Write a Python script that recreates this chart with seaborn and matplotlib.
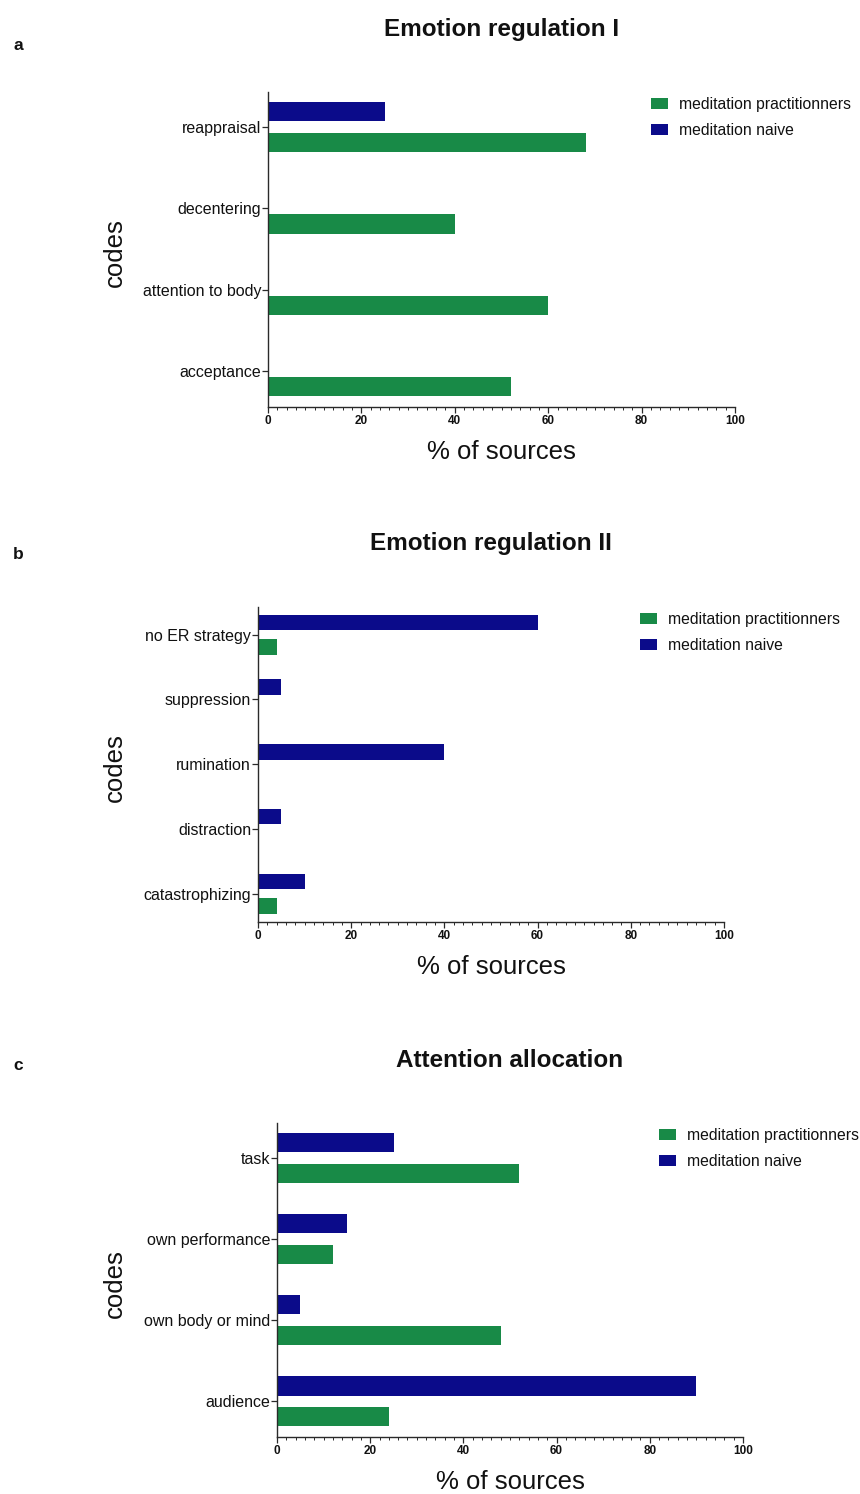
import numpy as np
import pandas as pd
import matplotlib
matplotlib.use("Agg")
import matplotlib.pyplot as plt
import seaborn as sns
from matplotlib.ticker import MultipleLocator

# Share of sources (%) mentioning each code, per group
groups = ["meditation practitionners", "meditation naive"]

er1_codes = ["reappraisal", "decentering", "attention to body", "acceptance"]
er1_practitioners = [68, 40, 60, 52]
er1_naive = [25, 0, 0, 0]

er2_codes = ["no ER strategy", "suppression", "rumination", "distraction", "catastrophizing"]
er2_practitioners = [4, 0, 0, 0, 4]
er2_naive = [60, 5, 40, 5, 10]

att_codes = ["task", "own performance", "own body or mind", "audience"]
att_practitioners = [52, 12, 48, 24]
att_naive = [25, 15, 5, 90]

x_ticks = [0, 20, 40, 60, 80, 100]

titles = ["Emotion regulation I", "Emotion regulation II", "Attention allocation"]
letters = ["a", "b", "c"]

palette = {"meditation practitionners": "#188a47", "meditation naive": "#0b0b8a"}

sns.set_style("ticks")
plt.rcParams["font.family"] = ["Liberation Sans", "DejaVu Sans"]
plt.rcParams["text.color"] = "#111111"
plt.rcParams["axes.labelcolor"] = "#111111"
plt.rcParams["xtick.labelcolor"] = "#111111"
plt.rcParams["ytick.labelcolor"] = "#111111"

W, H = 860, 1494
fig = plt.figure(figsize=(W / 100, H / 100), dpi=100)

# axes frames in pixels: left, right, top, bottom
frames = [(268, 735, 92, 407), (258, 724, 607, 922), (277, 743, 1123, 1437)]
letter_pos = [(13, 45), (13, 555), (13, 1066)]
ylabel_x = [115, 115, 115]

panels = [
    (er1_codes, er1_practitioners, er1_naive),
    (er2_codes, er2_practitioners, er2_naive),
    (att_codes, att_practitioners, att_naive),
]

dark = "#2a2a2a"

for i, (codes, prac, naive) in enumerate(panels):
    l, r, t, b = frames[i]
    ax = fig.add_axes([l / W, 1 - b / H, (r - l) / W, (b - t) / H])
    df = pd.DataFrame({
        "code": codes * 2,
        "pct": list(prac) + list(naive),
        "group": [groups[0]] * len(codes) + [groups[1]] * len(codes),
    })
    df = df[df["pct"] > 0]
    sns.barplot(
        data=df, y="code", x="pct", hue="group",
        order=codes, hue_order=["meditation naive", "meditation practitionners"],
        palette=palette, saturation=1, orient="h", width=0.76, gap=0.37,
        errorbar=None, linewidth=0, ax=ax,
    )
    n = len(codes)
    ax.set_ylim(n - 1 + 0.44, -0.43)
    ax.set_xlim(0, 100)
    ax.set_xticks(x_ticks)
    ax.xaxis.set_minor_locator(MultipleLocator(2))
    for s in ["top", "right"]:
        ax.spines[s].set_visible(False)
    for s in ["left", "bottom"]:
        ax.spines[s].set_color(dark)
        ax.spines[s].set_linewidth(1.0)
    ax.tick_params(axis="y", length=4, width=0.9, pad=1, labelsize=11.5, color=dark)
    ax.tick_params(axis="x", which="major", length=4, width=0.9, pad=2, labelsize=8.5, color=dark)
    ax.tick_params(axis="x", which="minor", length=2.2, width=0.7, color=dark)
    for lab in ax.get_xticklabels():
        lab.set_fontweight("bold")

    ax.set_ylabel("codes", fontsize=18.5)
    ax.yaxis.label.set(ha="center", va="center")
    ax.yaxis.set_label_coords((ylabel_x[i] - l) / (r - l), 0.49)
    ax.set_xlabel("% of sources", fontsize=18.5)
    ax.xaxis.label.set(va="center")
    ax.xaxis.set_label_coords(0.5, -0.142)

    ax.text(0.5, 1.2, titles[i], transform=ax.transAxes, ha="center", va="center",
            fontsize=17.5, fontweight="bold")
    fig.text(letter_pos[i][0] / W, 1 - letter_pos[i][1] / H, letters[i],
             ha="left", va="center", fontsize=12.5, fontweight="bold")

    handles, labels = ax.get_legend_handles_labels()
    order = [labels.index(g) for g in groups]
    ax.legend([handles[k] for k in order], [labels[k] for k in order],
              loc="upper left", bbox_to_anchor=(0.82, 0.985), frameon=False,
              fontsize=11.3, handlelength=1.1, handleheight=0.7, handletextpad=0.7,
              labelspacing=0.7, borderpad=0, borderaxespad=0)

fig.savefig("out.png", dpi=100)
